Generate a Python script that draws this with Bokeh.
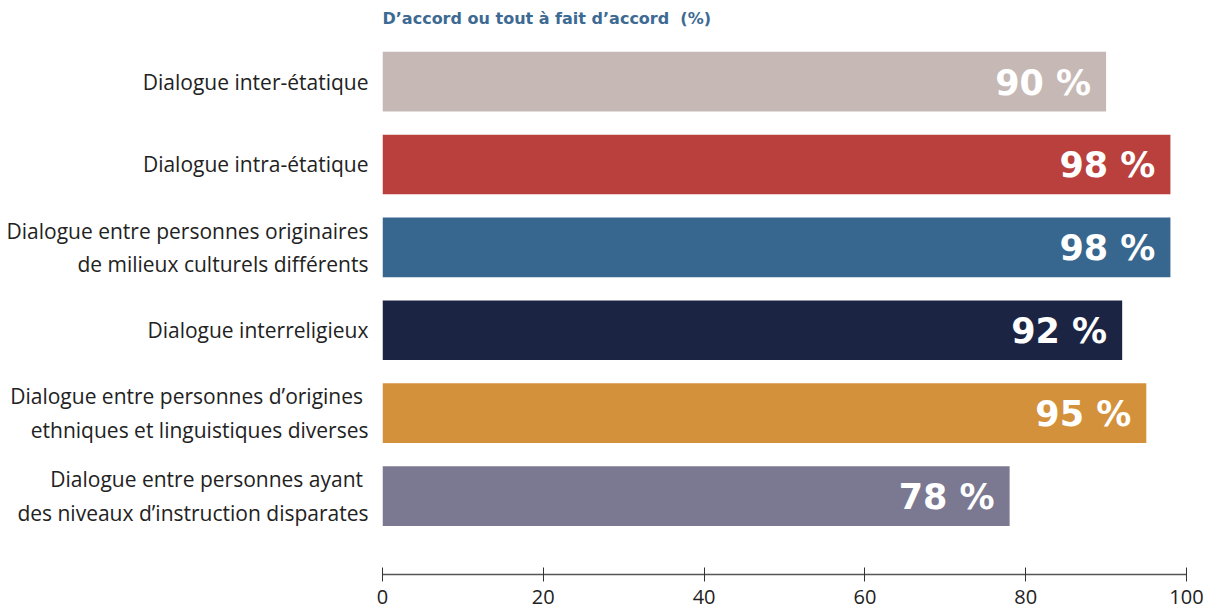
from bokeh.plotting import figure
from bokeh.models import Range1d, ColumnDataSource, FixedTicker, Title
from bokeh.embed import file_html
from bokeh.resources import INLINE
from bokeh.core.properties import value

categories = [
    "Dialogue inter-étatique",
    "Dialogue intra-étatique",
    "Dialogue entre personnes originaires\nde milieux culturels différents",
    "Dialogue interreligieux",
    "Dialogue entre personnes d’origines \nethniques et linguistiques diverses",
    "Dialogue entre personnes ayant \ndes niveaux d’instruction disparates",
]
values = [90, 98, 98, 92, 95, 78]
colors = ["#c6b9b5", "#b9403d", "#37678f", "#1c2444", "#d4913b", "#7b7891"]
value_labels = [f"{v} %" for v in values]
x_ticks = [0, 20, 40, 60, 80, 100]

FONT = "Open Sans"
BOLD_FONT = "DejaVu Sans"
pos = list(range(len(categories)))
src = ColumnDataSource(dict(y=pos, v=values, c=colors, lab=value_labels))

p = figure(width=1208, height=614, output_backend="svg", toolbar_location=None,
           x_range=Range1d(0, 100), y_range=Range1d(5.946, -0.58),
           min_border_left=382, min_border_right=22, min_border_bottom=40,
           min_border_top=16)
p.outline_line_color = None
p.grid.grid_line_color = None

p.hbar(y="y", right="v", left=0, height=0.72, fill_color="c", line_color=None, source=src)
p.text(x="v", y="y", text="lab", source=src, text_align="right", text_baseline="middle",
       x_offset=-15, y_offset=1, text_color="white", text_font=value(BOLD_FONT),
       text_font_style="bold", text_font_size="35px")

xa = p.xaxis[0]
xa.ticker = FixedTicker(ticks=x_ticks)
xa.axis_line_color = "#555555"
xa.axis_line_width = 1.5
xa.major_tick_line_color = "#333333"
xa.major_tick_in = 7
xa.major_tick_out = 7
xa.minor_tick_line_color = None
xa.major_label_text_font = FONT
xa.major_label_text_font_size = "20px"
xa.major_label_text_color = "#222222"
xa.major_label_standoff = 8

ya = p.yaxis[0]
ya.ticker = FixedTicker(ticks=pos)
ya.major_label_overrides = {i: c for i, c in enumerate(categories)}
ya.axis_line_color = None
ya.major_tick_line_color = None
ya.minor_tick_line_color = None
ya.major_label_text_font = FONT
ya.major_label_text_font_size = "21px"
ya.major_label_text_color = "#222222"
ya.major_label_standoff = 8

p.add_layout(Title(text="D’accord ou tout à fait d’accord\u00a0\u00a0(%)", align="left",
                   text_font=BOLD_FONT, text_font_size="16px", text_font_style="bold",
                   text_color="#3d6a93", standoff=12), "above")

open("out.html", "w").write(file_html(p, INLINE))
